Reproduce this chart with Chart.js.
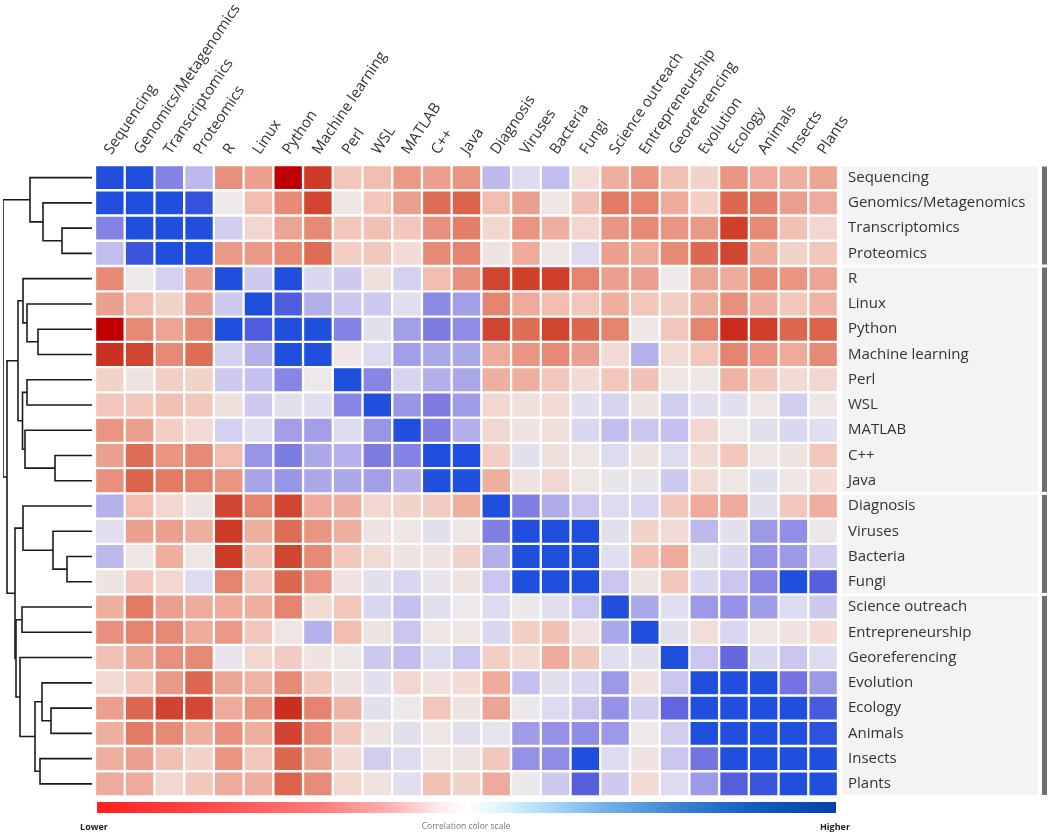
<!DOCTYPE html>
<html>
<head>
<meta charset="utf-8">
<title>Skill correlation heatmap</title>
<script src="https://cdn.jsdelivr.net/npm/chart.js@4.4.1/dist/chart.umd.min.js"></script>
<style>
  html, body { margin: 0; padding: 0; background: #fff; }
  #wrap { position: relative; width: 1052px; height: 834px; overflow: hidden; font-family: 'Open Sans', sans-serif; }
  #heat, #dendro { position: absolute; left: 0; top: 0; }
  #scaleBar {
    position: absolute; left: 97px; top: 802px; width: 739px; height: 11px;
    background: linear-gradient(to right, #ff1e1e 0%, #ff4a4a 15%, #ff7a7a 30%, #ffb4b4 40%, #ffe8e8 46%, #ffffff 50%, #e4f6fd 54%, #b4defa 60%, #78b4ea 68%, #3f86d6 78%, #1460c4 88%, #0042a8 100%);
  }
  .scaleText { position: absolute; top: 820px; transform: translateX(-50%); white-space: nowrap; }
</style>
</head>
<body>
<div id="wrap">
  <canvas id="heat" width="1052" height="834"></canvas>
  <canvas id="dendro" width="95" height="834"></canvas>
  <div id="scaleBar"></div>
  <div class="scaleText" style="left:94px;font-size:9px;font-weight:700;color:#222;">Lower</div>
  <div class="scaleText" style="left:466px;font-size:8.5px;color:#777;">Correlation color scale</div>
  <div class="scaleText" style="left:835px;font-size:9px;font-weight:700;color:#222;">Higher</div>
</div>
<script>
// Skills, in clustered order (same for rows and columns)
const skills = [
  'Sequencing', 'Genomics/Metagenomics', 'Transcriptomics', 'Proteomics',
  'R', 'Linux', 'Python', 'Machine learning', 'Perl', 'WSL', 'MATLAB', 'C++', 'Java',
  'Diagnosis', 'Viruses', 'Bacteria', 'Fungi',
  'Science outreach', 'Entrepreneurship', 'Georeferencing', 'Evolution', 'Ecology', 'Animals', 'Insects', 'Plants'
];

// Sizes of the row blocks marked on the right
const groupSizes = [4, 9, 4, 8];

// Correlations (-1 = lower, 1 = higher)
const corr = [
  [1, 1, 0.6, 0.3, -0.42, -0.35, -1, -0.8, -0.18, -0.22, -0.38, -0.34, -0.4, 0.3, 0.1, 0.28, -0.06, -0.28, -0.4, -0.2, -0.12, -0.4, -0.3, -0.28, -0.33],
  [1, 1, 1, 0.92, 0, -0.22, -0.45, -0.75, -0.02, -0.18, -0.35, -0.58, -0.62, -0.22, -0.35, -0.02, -0.2, -0.52, -0.48, -0.3, -0.14, -0.6, -0.5, -0.35, -0.3],
  [0.6, 1, 1, 1, 0.18, -0.1, -0.33, -0.45, -0.18, -0.2, -0.18, -0.42, -0.5, -0.1, -0.4, -0.28, -0.1, -0.4, -0.45, -0.4, -0.38, -0.78, -0.45, -0.2, -0.1],
  [0.28, 0.9, 1, 1, -0.38, -0.38, -0.45, -0.58, -0.14, -0.17, -0.08, -0.45, -0.47, -0.03, -0.3, -0.02, 0.1, -0.35, -0.3, -0.45, -0.6, -0.75, -0.3, -0.12, -0.17],
  [-0.45, 0, 0.16, -0.35, 1, 0.2, 1, 0.12, 0.2, -0.05, 0.16, -0.22, -0.42, -0.75, -0.78, -0.78, -0.48, -0.35, -0.35, 0, -0.33, -0.3, -0.45, -0.4, -0.33],
  [-0.35, -0.22, -0.12, -0.35, 0.2, 1, 0.82, 0.36, 0.22, 0.2, 0.08, 0.56, 0.45, -0.48, -0.3, -0.22, -0.18, -0.28, -0.18, -0.14, -0.28, -0.42, -0.28, -0.18, -0.26],
  [-1, -0.45, -0.33, -0.45, 1, 0.82, 1, 1, 0.6, 0.06, 0.45, 0.63, 0.55, -0.75, -0.58, -0.75, -0.6, -0.48, -0.02, -0.18, -0.48, -0.85, -0.78, -0.6, -0.62],
  [-0.83, -0.75, -0.45, -0.58, 0.16, 0.36, 1, 1, -0.01, 0.1, 0.45, 0.4, 0.4, -0.3, -0.4, -0.45, -0.35, -0.08, 0.35, -0.08, -0.18, -0.48, -0.4, -0.3, -0.45],
  [-0.12, -0.03, -0.14, -0.12, 0.2, 0.25, 0.58, 0, 1, 0.58, 0.14, 0.36, 0.4, -0.28, -0.28, -0.18, -0.08, -0.18, -0.2, -0.02, -0.02, -0.26, -0.17, -0.08, -0.1],
  [-0.18, -0.17, -0.2, -0.17, -0.05, 0.2, 0.06, 0.08, 0.58, 1, 0.5, 0.63, 0.47, -0.1, -0.05, -0.09, 0.07, 0.14, -0.03, 0.18, 0.07, 0.07, -0.02, 0.18, -0.02],
  [-0.4, -0.35, -0.14, -0.08, 0.16, 0.08, 0.45, 0.45, 0.1, 0.5, 1, 0.62, 0.36, -0.1, -0.03, -0.05, 0.12, 0.27, 0.22, 0.26, -0.1, 0, 0.06, 0.12, 0.08],
  [-0.35, -0.58, -0.4, -0.45, -0.22, 0.5, 0.64, 0.4, 0.35, 0.64, 0.6, 1, 1, -0.14, 0.06, -0.05, -0.02, 0.1, -0.03, 0.1, -0.08, -0.17, -0.02, -0.03, -0.18],
  [-0.42, -0.62, -0.52, -0.48, -0.4, 0.42, 0.5, 0.4, 0.4, 0.45, 0.36, 1, 1, -0.28, -0.03, -0.1, -0.02, 0.02, 0.02, 0.2, -0.08, -0.02, 0.06, -0.02, -0.08],
  [0.35, -0.22, -0.1, -0.03, -0.75, -0.48, -0.75, -0.3, -0.28, -0.1, -0.12, -0.15, -0.28, 1, 0.62, 0.38, 0.23, 0.1, 0.13, -0.17, -0.3, -0.3, 0.06, -0.17, -0.28],
  [0.08, -0.35, -0.35, -0.28, -0.8, -0.28, -0.58, -0.4, -0.28, -0.03, -0.02, 0.06, -0.02, 0.62, 1, 1, 1, 0.06, -0.12, -0.08, 0.3, 0.06, 0.48, 0.54, 0.01],
  [0.3, -0.02, -0.28, -0.02, -0.8, -0.2, -0.75, -0.45, -0.17, -0.08, -0.03, -0.03, -0.12, 0.36, 1, 1, 1, 0.08, -0.2, -0.3, 0.06, 0.12, 0.52, 0.48, 0.18],
  [-0.03, -0.18, -0.1, 0.1, -0.48, -0.17, -0.6, -0.4, -0.04, 0.06, 0.13, 0.02, -0.03, 0.23, 1, 1, 1, 0.23, -0.03, -0.17, 0.12, 0.23, 0.58, 1, 0.8],
  [-0.28, -0.52, -0.35, -0.3, -0.3, -0.28, -0.48, -0.08, -0.17, 0.12, 0.26, 0.08, 0, 0.1, 0.01, 0.08, 0.23, 1, 0.4, 0.08, 0.48, 0.52, 0.46, 0.1, 0.2],
  [-0.42, -0.48, -0.45, -0.3, -0.38, -0.18, -0.02, 0.35, -0.22, -0.03, 0.23, -0.02, -0.02, 0.12, -0.14, -0.2, -0.04, 0.4, 1, 0.06, -0.06, 0.13, -0.02, -0.04, -0.08],
  [-0.2, -0.33, -0.42, -0.45, 0.03, -0.1, -0.15, -0.04, -0.02, 0.2, 0.28, 0.1, 0.23, -0.14, -0.08, -0.3, -0.17, 0.08, 0.06, 1, 0.23, 0.74, 0.13, 0.23, 0.1],
  [-0.09, -0.17, -0.38, -0.6, -0.33, -0.26, -0.45, -0.17, -0.03, 0.07, -0.1, -0.04, -0.08, -0.3, 0.26, 0.06, 0.12, 0.48, -0.04, 0.23, 1, 1, 1, 0.68, 0.48],
  [-0.35, -0.6, -0.76, -0.74, -0.3, -0.4, -0.84, -0.48, -0.26, 0.06, 0, -0.18, -0.03, -0.33, 0.01, 0.1, 0.23, 0.52, 0.18, 0.76, 1, 1, 1, 1, 0.85],
  [-0.28, -0.52, -0.45, -0.28, -0.42, -0.28, -0.76, -0.44, -0.17, -0.03, 0.06, -0.02, 0.07, 0.04, 0.46, 0.52, 0.55, 0.48, 0, 0.18, 1, 1, 1, 1, 0.95],
  [-0.28, -0.35, -0.2, -0.12, -0.4, -0.18, -0.6, -0.33, -0.08, 0.18, 0.1, -0.02, -0.03, -0.17, 0.52, 0.55, 1, 0.1, -0.04, 0.23, 0.68, 1, 1, 1, 1],
  [-0.3, -0.3, -0.1, -0.17, -0.3, -0.28, -0.62, -0.44, -0.1, -0.04, 0.08, -0.2, -0.12, -0.3, 0.01, 0.2, 0.8, 0.2, -0.08, 0.1, 0.48, 0.8, 0.9, 1, 1]
];

// Row dendrogram merges: [left, right, height]; ids >= 25 are earlier merges
const linkage = [
  [2, 3, 30], [1, 25, 49], [0, 26, 62],
  [6, 7, 54], [5, 28, 65], [4, 29, 69],
  [8, 9, 65], [11, 12, 37], [10, 32, 67], [31, 33, 69.5], [30, 34, 74],
  [15, 16, 25], [14, 36, 39], [13, 37, 69],
  [17, 18, 70], [21, 22, 41], [20, 40, 50], [23, 24, 52], [41, 42, 57], [19, 43, 72], [39, 44, 76],
  [38, 45, 77], [35, 46, 85], [27, 47, 89]
];

// Colour ramp of the cells
const colorStops = [
  [-1.00, '#c00000'], [-0.80, '#cd3a26'], [-0.60, '#dd6850'], [-0.45, '#e68a76'],
  [-0.30, '#eeaa9a'], [-0.18, '#f2c6ba'], [-0.08, '#f2dbd5'], [0.00, '#ede8ea'],
  [0.10, '#dddbf0'], [0.25, '#c6c2ef'], [0.45, '#a29fe8'], [0.60, '#8482e4'],
  [0.75, '#6466de'], [0.90, '#3a54dc'], [1.00, '#1f4fdc']
];

function hexToRgb(h) {
  return [parseInt(h.slice(1, 3), 16), parseInt(h.slice(3, 5), 16), parseInt(h.slice(5, 7), 16)];
}

function colorFor(v) {
  for (let k = 1; k < colorStops.length; k++) {
    const [v1, c1] = colorStops[k];
    if (v <= v1) {
      const [v0, c0] = colorStops[k - 1];
      const t = (v - v0) / (v1 - v0);
      const a = hexToRgb(c0), b = hexToRgb(c1);
      const rgb = a.map((x, i) => Math.round(x + (b[i] - x) * t));
      return `rgb(${rgb.join(',')})`;
    }
  }
  return colorStops[colorStops.length - 1][1];
}

// Gray label panel and block bars on the right
const sidePanel = {
  id: 'sidePanel',
  beforeDraw(chart) {
    const { ctx, chartArea, scales: { y } } = chart;
    let start = 0;
    ctx.save();
    groupSizes.forEach(n => {
      const top = y.getPixelForValue(start) + 1.5;
      const bottom = y.getPixelForValue(start + n) - 1.5;
      ctx.fillStyle = '#f3f3f3';
      ctx.fillRect(chartArea.right + 4, top, 196, bottom - top);
      ctx.fillStyle = '#6e6e6e';
      ctx.fillRect(1042, top, 5, bottom - top);
      start += n;
    });
    ctx.restore();
  }
};

const labelFont = { family: "'Open Sans', sans-serif", size: 15 };

// Heatmap: one floating bar per cell
new Chart(document.getElementById('heat'), {
  type: 'bar',
  data: {
    labels: skills,
    datasets: skills.map((name, i) => ({
      label: name,
      data: skills.map(() => [i, i + 1]),
      backgroundColor: corr[i].map(colorFor),
      borderColor: '#ffffff',
      borderWidth: 1.5,
      borderSkipped: false,
      grouped: false,
      barPercentage: 1,
      categoryPercentage: 1
    }))
  },
  options: {
    responsive: false,
    animation: false,
    events: [],
    layout: { padding: { left: 95, top: 0, right: 0, bottom: 37.5 } },
    plugins: { legend: { display: false }, tooltip: { enabled: false } },
    scales: {
      x: {
        position: 'top',
        grid: { display: false, drawTicks: false },
        border: { display: false },
        ticks: {
          autoSkip: false, minRotation: 56, maxRotation: 56,
          font: labelFont, color: '#333', padding: 7, labelOffset: 13
        },
        afterFit: scale => { scale.height = 165; }
      },
      y: {
        type: 'linear',
        position: 'right',
        reverse: true,
        min: 0,
        max: skills.length,
        grid: { display: false, drawTicks: false },
        border: { display: false },
        afterBuildTicks: axis => { axis.ticks = skills.map((_, i) => ({ value: i + 0.5 })); },
        ticks: {
          autoSkip: false, font: labelFont, color: '#333', padding: 10,
          callback: (v, idx) => skills[idx]
        },
        afterFit: scale => { scale.width = 214; }
      }
    }
  },
  plugins: [sidePanel]
});

// Dendrogram: each merge drawn as a bracket
function dendrogramSegments() {
  const nodes = skills.map((_, i) => ({ y: i + 0.5, h: 0 }));
  const segs = [];
  linkage.forEach(([a, b, h]) => {
    const A = nodes[a], B = nodes[b];
    segs.push([{ x: A.h, y: A.y }, { x: h, y: A.y }, { x: h, y: B.y }, { x: B.h, y: B.y }]);
    nodes.push({ y: (A.y + B.y) / 2, h });
  });
  return segs;
}

new Chart(document.getElementById('dendro'), {
  type: 'scatter',
  data: {
    datasets: dendrogramSegments().map(seg => ({
      data: seg,
      showLine: true,
      borderColor: '#1b1b1b',
      borderWidth: 1.6,
      pointRadius: 0,
      tension: 0
    }))
  },
  options: {
    responsive: false,
    animation: false,
    events: [],
    layout: { padding: { left: 3, right: 3, top: 165, bottom: 37.5 } },
    plugins: { legend: { display: false }, tooltip: { enabled: false } },
    scales: {
      x: { type: 'linear', display: false, reverse: true, min: 0, max: 89 },
      y: { type: 'linear', display: false, reverse: true, min: 0, max: skills.length }
    }
  }
});
</script>
</body>
</html>
